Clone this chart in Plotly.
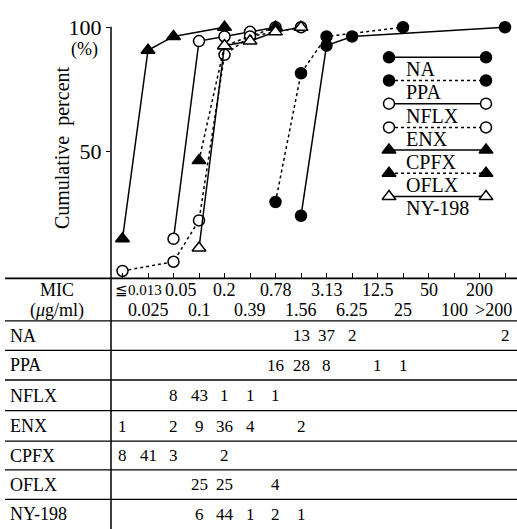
import numpy as np
import plotly.graph_objects as go

W, H = 517, 529

# ---------------- data ----------------
mic_labels = ["≦0.013", "0.025", "0.05", "0.1", "0.2", "0.39", "0.78", "1.56",
              "3.13", "6.25", "12.5", "25", "50", "100", "200", ">200"]
drugs = ["NA", "PPA", "NFLX", "ENX", "CPFX", "OFLX", "NY-198"]

counts_NA     = [0, 0, 0, 0, 0, 0, 0, 13, 37, 2, 0, 0, 0, 0, 0, 2]
counts_PPA    = [0, 0, 0, 0, 0, 0, 16, 28, 8, 0, 1, 1, 0, 0, 0, 0]
counts_NFLX   = [0, 0, 8, 43, 1, 1, 1, 0, 0, 0, 0, 0, 0, 0, 0, 0]
counts_ENX    = [1, 0, 2, 9, 36, 4, 0, 2, 0, 0, 0, 0, 0, 0, 0, 0]
counts_CPFX   = [8, 41, 3, 0, 2, 0, 0, 0, 0, 0, 0, 0, 0, 0, 0, 0]
counts_OFLX   = [0, 0, 0, 25, 25, 0, 4, 0, 0, 0, 0, 0, 0, 0, 0, 0]
counts_NY198  = [0, 0, 0, 6, 44, 1, 2, 1, 0, 0, 0, 0, 0, 0, 0, 0]

counts = [counts_NA, counts_PPA, counts_NFLX, counts_ENX, counts_CPFX, counts_OFLX, counts_NY198]

# MIC columns that the original curve omits (PPA's 12.5 point is not drawn)
omitted_points = {"PPA": [10]}

# styles: (marker symbol, filled, dash)
styles = [("circle", True, "solid"), ("circle", True, "3px,3px"), ("circle", False, "solid"),
          ("circle", False, "3px,3px"), ("triangle-up", True, "solid"),
          ("triangle-up", True, "3px,3px"), ("triangle-up", False, "solid")]

FONT = "Liberation Serif"
BLACK = "black"

def px_x(x):
    return x / W

def px_y(y):
    return 1 - y / H

def marker_for(sym, filled):
    return dict(symbol=sym, size=11 if sym == "circle" else 12,
                color=BLACK if filled else "white",
                line=dict(color=BLACK, width=1.5))

fig = go.Figure()

# ------------- cumulative curves -------------
for name, c, (sym, filled, dash) in zip(drugs, counts, styles):
    c = np.array(c, dtype=float)
    cum = np.cumsum(c) / c.sum() * 100
    idx = [i for i in range(len(c)) if c[i] > 0 and i not in omitted_points.get(name, [])]
    fig.add_trace(go.Scatter(
        x=idx, y=[cum[i] for i in idx], mode="lines+markers", name=name,
        line=dict(color=BLACK, width=1.5, dash=dash),
        marker=marker_for(sym, filled),
        showlegend=False, cliponaxis=False))

# ------------- custom legend (pixel-space axes covering the page) -------------
leg_line_y = [51, 74.5, 98, 122, 145, 168.5, 192]
leg_x0, leg_x1 = 389, 486
for name, (sym, filled, dash), ly in zip(drugs, styles, leg_line_y):
    fig.add_trace(go.Scatter(
        x=[leg_x0, leg_x1], y=[ly, ly], xaxis="x2", yaxis="y2", mode="lines+markers",
        line=dict(color=BLACK, width=1.5, dash=dash),
        marker=marker_for(sym, filled),
        showlegend=False, cliponaxis=False, hoverinfo="skip"))

def ann(x, y, text, size, xref="paper", xanchor="center", xshift=0, angle=0):
    return dict(x=x, y=y, xref=xref, yref="paper", text=text, showarrow=False,
                xanchor=xanchor, yanchor="middle", xshift=xshift, textangle=angle,
                font=dict(family=FONT, size=size, color=BLACK))

annotations = []
for name, ly in zip(drugs, leg_line_y):
    annotations.append(ann(px_x(404), px_y(ly + 12), name, 20, xanchor="left"))

# ------------- axis titles -------------
annotations.append(ann(px_x(62), px_y(143), "Cumulative  percent", 20, angle=-90))
annotations.append(ann(px_x(84), px_y(43), "(%)", 18))

# ------------- table: MIC header -------------
for i, lab in enumerate(mic_labels):
    yrow = 287 if i % 2 == 0 else 307
    if i == 0:
        annotations.append(ann(i, px_y(yrow), lab, 15, xref="x", xanchor="left", xshift=-10))
    elif i == 2:
        annotations.append(ann(i, px_y(yrow), lab, 18, xref="x", xshift=7))
    elif i == len(mic_labels) - 1:
        annotations.append(ann(i, px_y(yrow), lab, 18, xref="x", xanchor="right", xshift=9))
    else:
        annotations.append(ann(i, px_y(yrow), lab, 18, xref="x"))

annotations.append(ann(px_x(57), px_y(287), "MIC", 18))
annotations.append(ann(px_x(57), px_y(308), "(<i>μ</i>g/ml)", 18))

# ------------- table rows -------------
row_y = [333, 363, 394, 425, 455, 484, 514]
for name, c, ry in zip(drugs, counts, row_y):
    annotations.append(ann(px_x(8), px_y(ry), name, 18, xanchor="left"))
    for i, v in enumerate(c):
        if v > 0:
            annotations.append(ann(i, px_y(ry), str(v), 17, xref="x"))

# ------------- table lines -------------
shapes = []
for ly in [275, 318, 348, 378, 409, 440, 469, 499]:
    shapes.append(dict(type="line", xref="paper", yref="paper", x0=px_x(5), x1=1,
                       y0=px_y(ly), y1=px_y(ly),
                       line=dict(color=BLACK, width=1.6 if ly == 275 else 1.3)))
shapes.append(dict(type="line", xref="paper", yref="paper", x0=px_x(111), x1=px_x(111),
                   y0=px_y(20), y1=0, line=dict(color=BLACK, width=1.5)))

fig.update_layout(
    width=W, height=H, margin=dict(l=0, r=0, t=0, b=0),
    paper_bgcolor="white", plot_bgcolor="rgba(0,0,0,0)",
    xaxis=dict(domain=[111 / W, 1], range=[-0.451, 15.47], tickvals=list(range(16)),
               ticks="inside", ticklen=5, tickwidth=1.3, tickcolor=BLACK,
               showticklabels=False, showgrid=False, zeroline=False, showline=False),
    yaxis=dict(domain=[px_y(275), px_y(15)], range=[-1.13, 102.2], tickvals=[50, 100],
               ticktext=["50", "100"], ticks="outside", ticklen=4, tickwidth=1.3,
               tickcolor=BLACK, showgrid=False, zeroline=False, showline=False,
               tickfont=dict(family=FONT, size=22, color=BLACK)),
    xaxis2=dict(domain=[0, 1], range=[0, W], visible=False, anchor="y2"),
    yaxis2=dict(domain=[0, 1], range=[H, 0], visible=False, anchor="x2"),
    annotations=annotations, shapes=shapes,
)

fig.write_html("out.html", config={"displayModeBar": False},
               post_script="document.body.style.margin='0';document.body.style.padding='0';")
